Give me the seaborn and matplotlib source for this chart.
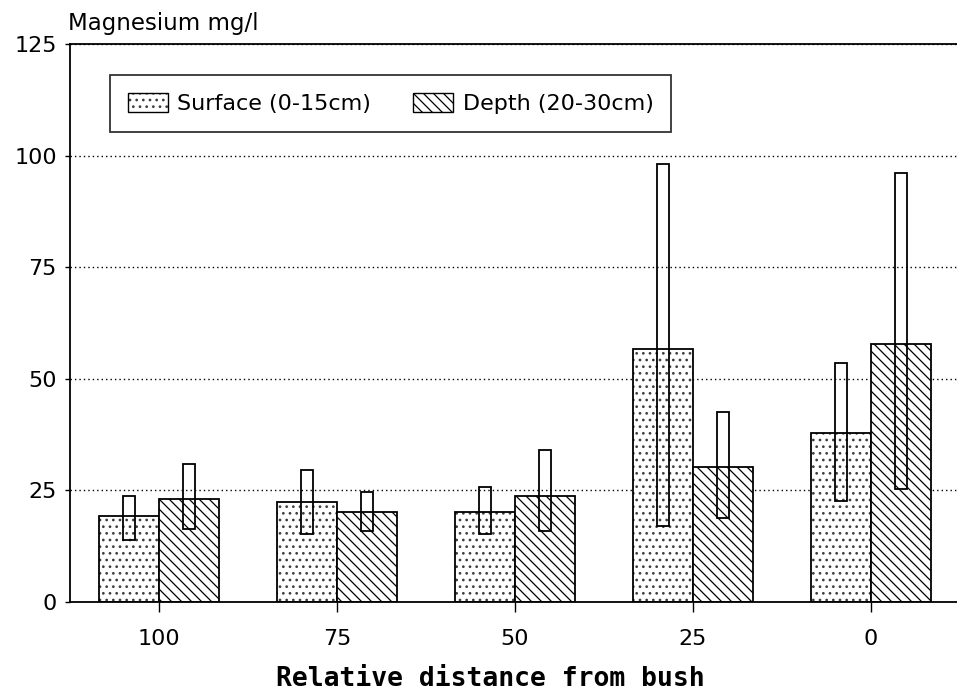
import numpy as np
import pandas as pd
import matplotlib
matplotlib.use("Agg")
import matplotlib.pyplot as plt
import seaborn as sns
from matplotlib.patches import Patch

categories = ["100", "75", "50", "25", "0"]
layers = ["Surface (0-15cm)", "Depth (20-30cm)"]
surface_mean = [19.2, 22.4, 20.1, 56.6, 37.8]
depth_mean = [23.0, 20.1, 23.7, 30.2, 57.7]
surface_low = [13.9, 15.2, 15.2, 17.0, 22.6]
surface_high = [23.7, 29.5, 25.7, 98.2, 53.5]
depth_low = [16.3, 15.9, 15.9, 18.8, 25.3]
depth_high = [30.9, 24.6, 34.0, 42.5, 96.0]
yticks = [0, 25, 50, 75, 100, 125]

df = pd.DataFrame({
    "distance": categories * 2,
    "layer": [layers[0]] * 5 + [layers[1]] * 5,
    "mg": surface_mean + depth_mean,
})

DPI = 120
f = 100 / DPI  # sizes below were tuned in pixels at 100 dpi

sns.set_style("white")
plt.rcParams["font.family"] = ["DejaVu Sans"]
plt.rcParams["text.color"] = "black"
plt.rcParams["axes.labelcolor"] = "black"
plt.rcParams["hatch.linewidth"] = 0.9 * f
plt.rcParams["hatch.color"] = "black"

fig = plt.figure(figsize=(957 / DPI, 692 / DPI), dpi=DPI)
ax = fig.add_axes([70 / 957, 90 / 692, 890 / 957, 558 / 692])

sns.barplot(data=df, x="distance", y="mg", hue="layer", order=categories,
            hue_order=layers, width=0.675, gap=0, palette=["white", "white"],
            edgecolor="black", linewidth=1.3 * f, legend=False, ax=ax, zorder=2)

hatches = ["...", "\\\\\\\\"]
dot_color = (0.25, 0.25, 0.25, 1.0)


def style_patch(p, h):
    p.set_hatch(h)
    p.set_facecolor("white")
    p.set_edgecolor("black")
    if h.startswith("."):
        p._hatch_color = dot_color
        if hasattr(p, "set_hatch_linewidth"):
            p.set_hatch_linewidth(1.0 * f)


for cont, h in zip(ax.containers, hatches):
    for p in cont:
        style_patch(p, h)

lows = [surface_low, depth_low]
highs = [surface_high, depth_high]
for cont, lo, hi in zip(list(ax.containers[:2]), lows, highs):
    centers = [p.get_x() + p.get_width() / 2 for p in cont]
    lo = np.array(lo)
    hi = np.array(hi)
    ax.bar(centers, hi - lo, bottom=lo, width=0.068, fill=False,
           edgecolor="black", linewidth=1.3 * f, zorder=3)

ax.set_xlim(-0.5, 4.5)
ax.set_ylim(0, 125)
ax.set_yticks(yticks)
ax.yaxis.grid(True, color="black", linestyle=(0, (1, 2.2)), linewidth=1.0 * f)
ax.set_axisbelow(True)

for s in ["left", "bottom", "top"]:
    ax.spines[s].set_color("black")
    ax.spines[s].set_linewidth(1.3 * f)
ax.spines["right"].set_visible(False)

ax.tick_params(axis="x", direction="out", length=7.5 * f, width=1.0 * f, pad=12 * f,
               labelsize=16 * f, colors="black", bottom=True)
ax.tick_params(axis="y", direction="out", length=3.5 * f, width=1.0 * f, pad=6 * f,
               labelsize=16 * f, colors="black", left=True)

ax.set_xlabel("Relative distance from bush", fontsize=19 * f,
              fontfamily="DejaVu Sans Mono", fontweight="bold", color="black")
ax.xaxis.set_label_coords((490 - 70) / 890, (602 - 686) / 558)
ax.xaxis.label.set_va("baseline")

ax.set_ylabel("Magnesium mg/l", rotation=0, fontsize=16.5 * f, color="black")
ax.yaxis.set_label_coords(-0.002, (602 - 30) / 558)
ax.yaxis.label.set_ha("left")
ax.yaxis.label.set_va("baseline")

handles = []
for h in hatches:
    hp = Patch(facecolor="white", edgecolor="black", hatch=h, linewidth=1.0 * f)
    handles.append(hp)
leg = ax.legend(handles, layers, loc="upper left",
                bbox_to_anchor=((110 - 70) / 890, 1 - (75 - 44) / 558),
                borderaxespad=0, ncol=2, fontsize=16 * f, frameon=True,
                fancybox=False, handlelength=1.8, handleheight=0.95,
                handletextpad=0.42, columnspacing=1.9, borderpad=0.8)
for hp in leg.legend_handles:
    if hp.get_hatch() and hp.get_hatch().startswith("."):
        hp._hatch_color = dot_color
        if hasattr(hp, "set_hatch_linewidth"):
            hp.set_hatch_linewidth(1.0 * f)
for t in leg.get_texts():
    t.set_color("black")
leg.get_frame().set_edgecolor("black")
leg.get_frame().set_linewidth(1.3 * f)

fig.savefig("out.png", dpi=DPI)
